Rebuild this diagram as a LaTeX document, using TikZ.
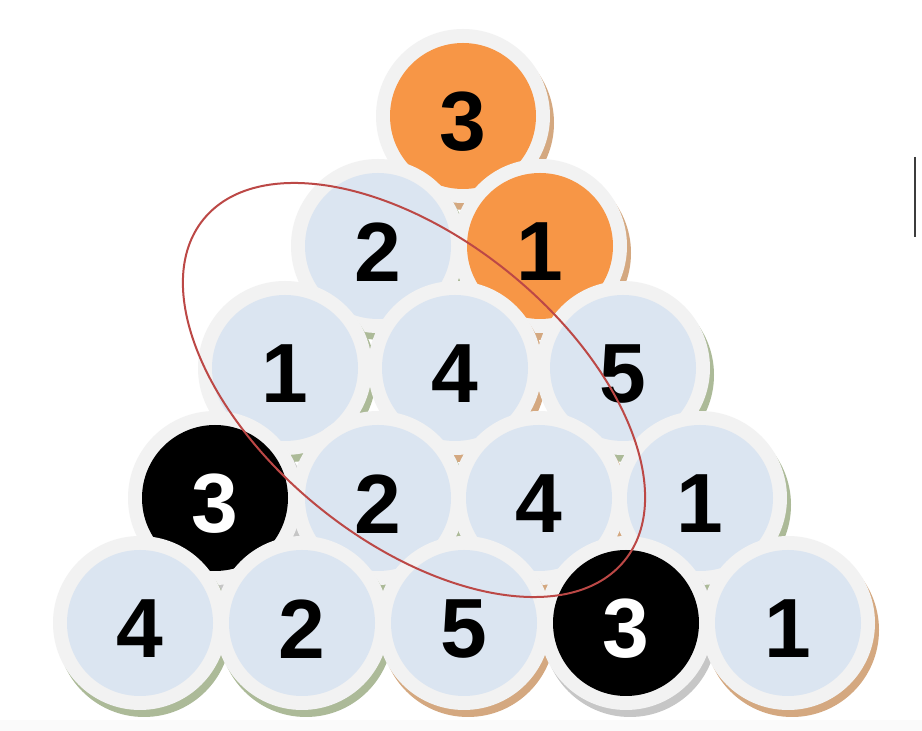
\documentclass[tikz,border=0pt]{standalone}
\usepackage{fontspec}
\setmainfont{Liberation Sans}
\definecolor{ballblue}{RGB}{219,229,241}
\definecolor{ballorange}{RGB}{247,150,70}
\definecolor{ringgray}{RGB}{242,242,242}
\definecolor{shgreen}{RGB}{172,186,152}
\definecolor{shtan}{RGB}{212,168,128}
\definecolor{shgray}{RGB}{198,198,198}
\definecolor{ellred}{RGB}{188,72,70}
\definecolor{barcol}{RGB}{60,60,60}
\tikzset{
  digit/.style={font=\fontsize{42}{42}\selectfont\bfseries, inner sep=0pt},
}
\newcommand{\poolball}[7]{%
  \fill[#6] (#2+4,#3+7) circle[radius=43.5pt];
  \fill[ringgray] (#2,#3) circle[radius=43.5pt];
  \fill[#4] (#2,#3) circle[radius=36.5pt];
  \node[digit,text=#5] (#1) at (#2,#3+6) {#7};
}
\begin{document}
\begin{tikzpicture}[x=0.5pt,y=-0.5pt]
\useasboundingbox (0,0) rectangle (922,731);
\fill[white] (0,0) rectangle (922,731);
\fill[gray!4] (0,720) rectangle (922,731);
% row 1
\poolball{b11}{463}{116}{ballorange}{black}{shtan}{3}
% row 2
\poolball{b21}{378}{246}{ballblue}{black}{shgreen}{2}
\poolball{b22}{540}{246}{ballorange}{black}{shtan}{1}
% row 3
\poolball{b31}{285}{368}{ballblue}{black}{shgreen}{1}
\poolball{b32}{455}{368}{ballblue}{black}{shtan}{4}
\poolball{b33}{623}{368}{ballblue}{black}{shgreen}{5}
% row 4
\poolball{b41}{215}{498}{black}{white}{shgray}{3}
\poolball{b42}{378}{498}{ballblue}{black}{shgreen}{2}
\poolball{b43}{539}{498}{ballblue}{black}{shtan}{4}
\poolball{b44}{700}{498}{ballblue}{black}{shgreen}{1}
% row 5
\poolball{b51}{140}{623}{ballblue}{black}{shgreen}{4}
\poolball{b52}{302}{623}{ballblue}{black}{shgreen}{2}
\poolball{b53}{464}{623}{ballblue}{black}{shtan}{5}
\poolball{b54}{626}{623}{black}{white}{shgray}{3}
\poolball{b55}{788}{623}{ballblue}{black}{shtan}{1}
% ellipse
\coordinate (ec) at (414,390);
\draw[ellred, line width=1pt, rotate around={-39:(ec)}] (ec) ellipse [x radius=135.5pt, y radius=75.5pt];
% vertical bar
\coordinate (bt) at (915,157);
\coordinate (bb) at (915,237);
\draw[barcol, line width=1.2pt] (bt) -- (bb);
\end{tikzpicture}
\end{document}
